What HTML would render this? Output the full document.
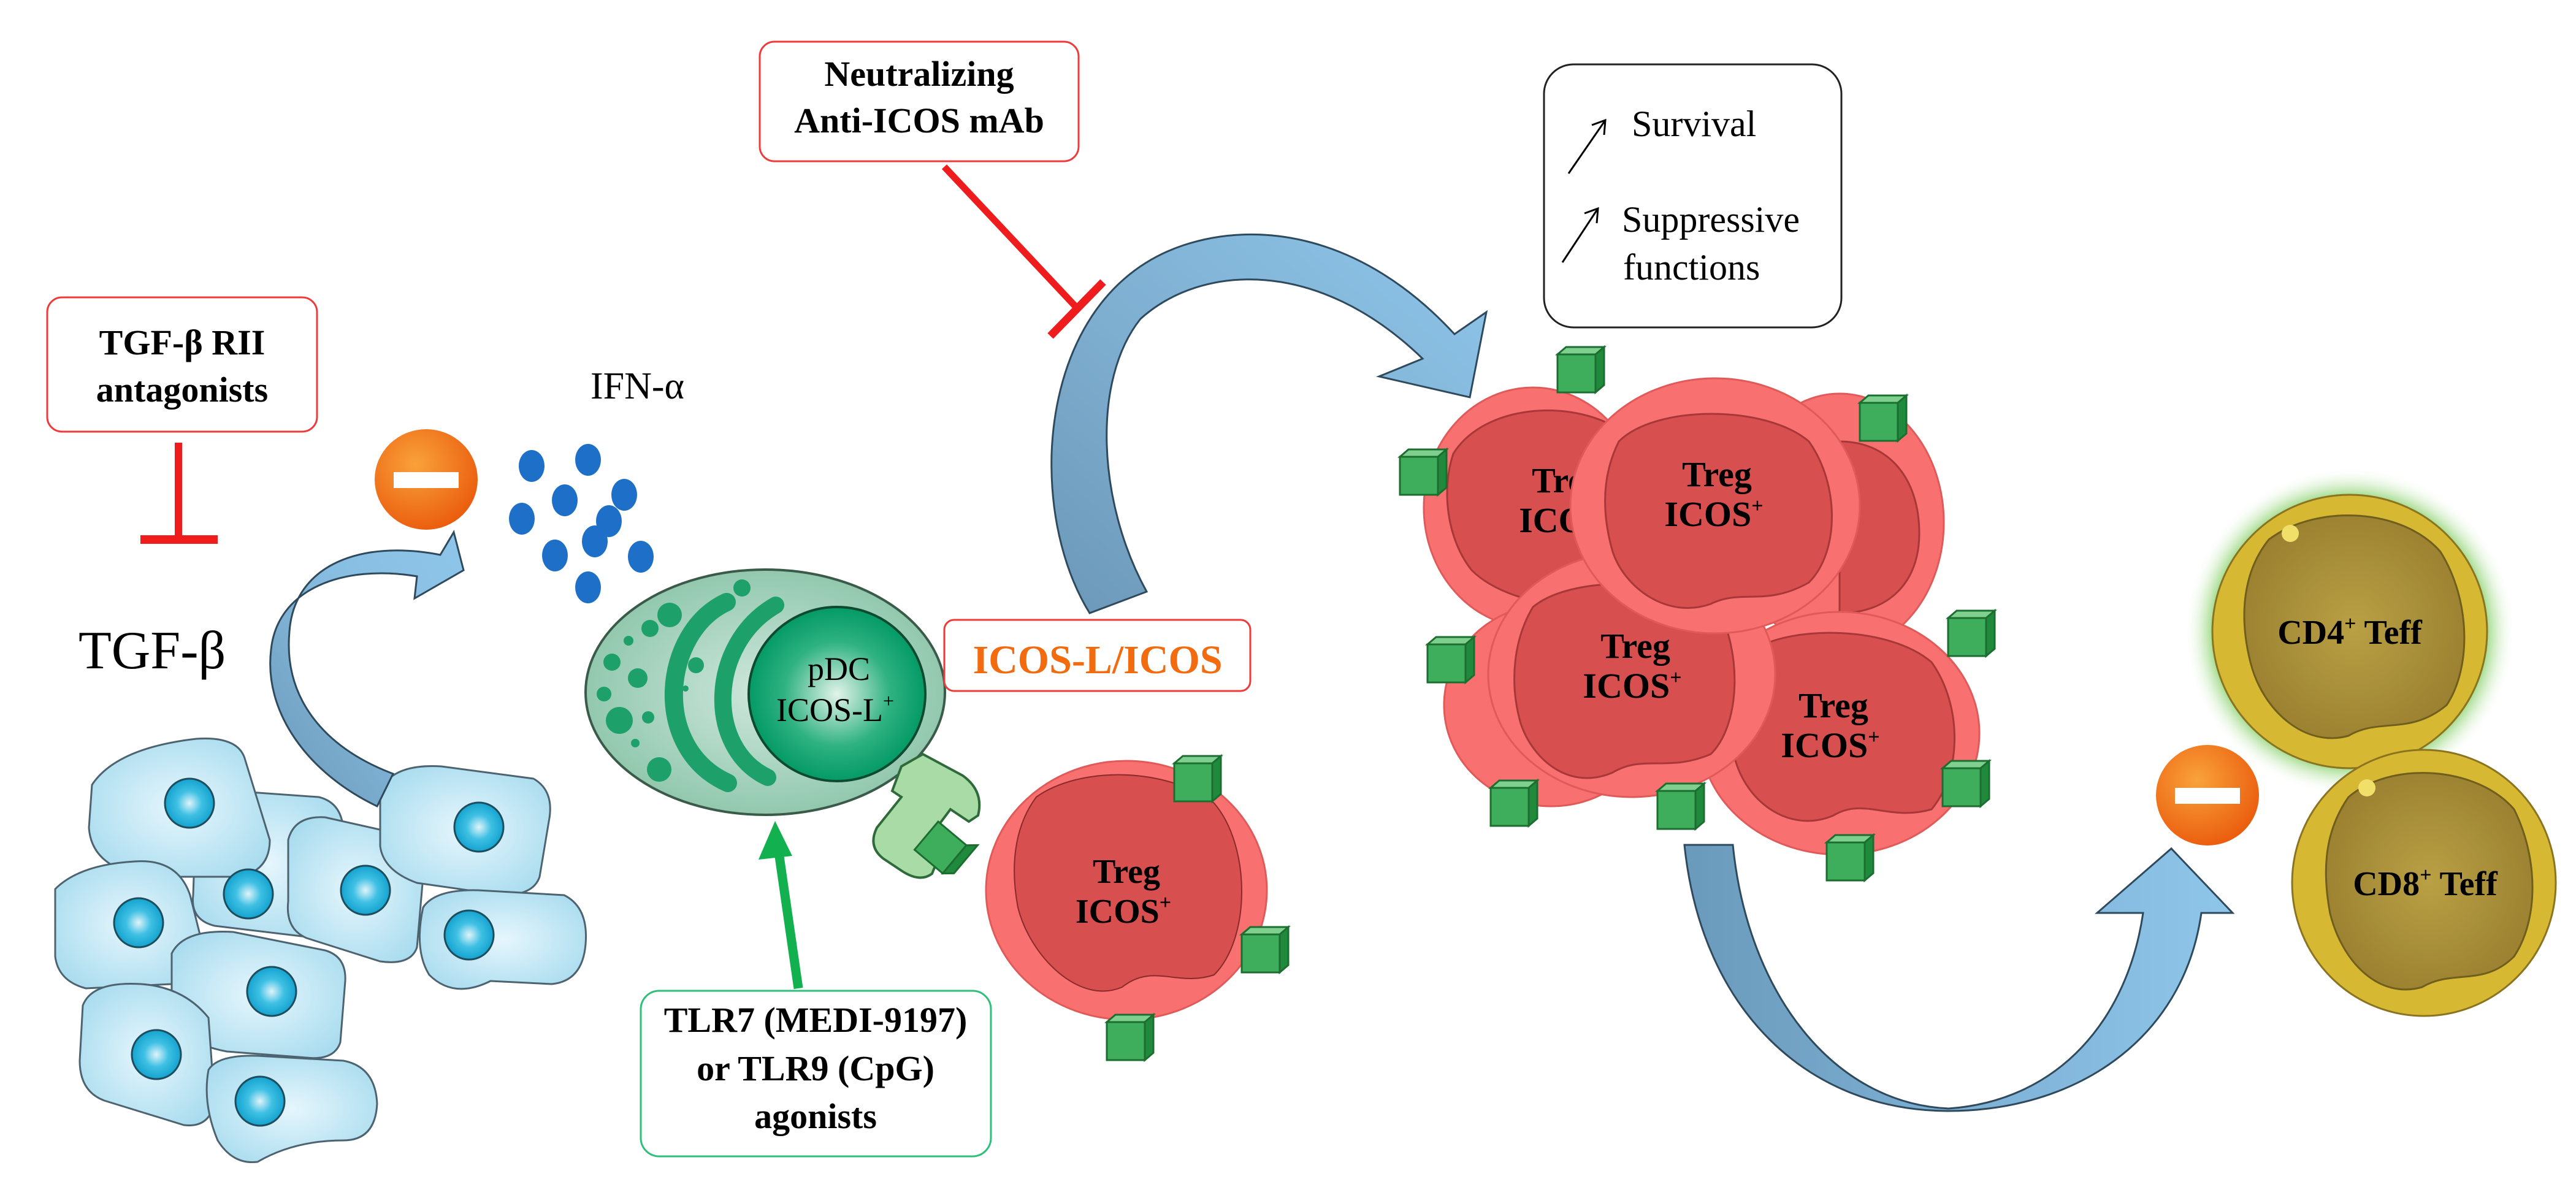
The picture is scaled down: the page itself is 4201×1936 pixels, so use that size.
<!DOCTYPE html>
<html><head><meta charset="utf-8"><style>
html,body{margin:0;padding:0;background:#fff;}
svg{display:block;}
text{font-family:"Liberation Serif",serif;}
</style></head><body>
<svg width="4201" height="1936" viewBox="0 0 4201 1936" xmlns="http://www.w3.org/2000/svg">
<defs>
<radialGradient id="cellB" cx="0.5" cy="0.5" r="0.6"><stop offset="0" stop-color="#e6f6fc"/><stop offset="1" stop-color="#a9dcef"/></radialGradient>
<radialGradient id="nucB" cx="0.5" cy="0.5" r="0.5"><stop offset="0" stop-color="#e0f4fa"/><stop offset="0.5" stop-color="#3fc0e4"/><stop offset="1" stop-color="#14a3cf"/></radialGradient>
<radialGradient id="orange" cx="0.4" cy="0.35" r="0.7"><stop offset="0" stop-color="#f9a23a"/><stop offset="1" stop-color="#ea5a0c"/></radialGradient>
<radialGradient id="pdcOut" cx="0.5" cy="0.5" r="0.55"><stop offset="0" stop-color="#cfe7dc"/><stop offset="1" stop-color="#8cc5aa"/></radialGradient>
<radialGradient id="pdcNuc" cx="0.5" cy="0.5" r="0.5"><stop offset="0" stop-color="#e3f3ea"/><stop offset="0.6" stop-color="#2fb282"/><stop offset="1" stop-color="#049a66"/></radialGradient>
<linearGradient id="arrBig" x1="0" y1="1" x2="1" y2="0"><stop offset="0" stop-color="#6c98b8"/><stop offset="0.45" stop-color="#7eaed0"/><stop offset="1" stop-color="#8ec6ea"/></linearGradient>
<linearGradient id="arrU" x1="0" y1="0" x2="1" y2="0"><stop offset="0" stop-color="#6a9abb"/><stop offset="0.5" stop-color="#7db0d4"/><stop offset="1" stop-color="#8ec6ea"/></linearGradient>
<linearGradient id="arrS" x1="0" y1="1" x2="1" y2="0"><stop offset="0" stop-color="#6a98b8"/><stop offset="0.6" stop-color="#88bee2"/><stop offset="1" stop-color="#8ec6ea"/></linearGradient>
<radialGradient id="gold" cx="0.5" cy="0.5" r="0.55"><stop offset="0" stop-color="#b9a044"/><stop offset="1" stop-color="#9a8030"/></radialGradient>
<radialGradient id="glow" cx="0.5" cy="0.5" r="0.5"><stop offset="0.82" stop-color="#9ad880"/><stop offset="1" stop-color="#ffffff" stop-opacity="0"/></radialGradient>
<g id="cube">
 <rect x="0" y="12" width="62" height="62" fill="#3fae5c" stroke="#1c6e30" stroke-width="3"/>
 <polygon points="0,12 14,0 76,0 62,12" fill="#7fd08f" stroke="#1c6e30" stroke-width="3"/>
 <polygon points="62,12 76,0 76,62 62,74" fill="#1f8a3c" stroke="#1c6e30" stroke-width="3"/>
</g>
</defs>

<rect x="77" y="485" width="440" height="219" rx="24" fill="#fff" stroke="#ee3a3a" stroke-width="3"/>
<text x="297" y="578" font-size="58" font-weight="bold" text-anchor="middle">TGF-β RII</text>
<text x="297" y="655" font-size="58" font-weight="bold" text-anchor="middle">antagonists</text>
<line x1="291" y1="722" x2="291" y2="880" stroke="#ee1c1c" stroke-width="12"/>
<line x1="229" y1="880" x2="355" y2="880" stroke="#ee1c1c" stroke-width="14"/>

<text x="128" y="1090" font-size="88">TGF-β</text>

<g stroke="#4d6470" stroke-width="3" fill="url(#cellB)">
 <path d="M320,1318 Q330,1290 380,1290 L520,1300 Q560,1310 560,1360 L545,1500 Q535,1530 500,1528 L350,1510 Q310,1500 315,1460 Z"/>
 <path d="M150,1280 Q190,1220 320,1205 Q390,1200 400,1240 L440,1370 Q440,1420 390,1430 L250,1430 Q150,1420 145,1350 Z"/>
 <path d="M90,1450 Q130,1410 220,1405 Q290,1400 310,1460 L335,1560 Q330,1600 280,1605 L140,1612 Q95,1600 90,1560 Z"/>
 <path d="M470,1370 Q480,1330 530,1333 L650,1360 Q690,1380 690,1430 L680,1545 Q670,1575 620,1568 L500,1530 Q465,1515 470,1470 Z"/>
 <path d="M620,1290 Q640,1245 720,1250 L870,1270 Q905,1290 895,1340 L880,1430 Q870,1460 820,1460 L680,1440 Q625,1420 620,1380 Z"/>
 <path d="M690,1480 Q710,1450 780,1452 L920,1460 Q960,1480 955,1540 Q950,1600 900,1605 L800,1600 Q740,1630 700,1590 Q675,1550 690,1480 Z"/>
 <path d="M280,1555 Q300,1515 380,1520 L530,1550 Q565,1560 563,1600 L555,1700 Q545,1730 500,1725 L370,1715 Q290,1700 280,1650 Z"/>
 <path d="M135,1640 Q150,1600 230,1605 Q300,1610 340,1660 L350,1800 Q340,1840 300,1835 L170,1795 Q130,1780 130,1730 Z"/>
 <path d="M340,1745 Q355,1720 420,1722 L560,1730 Q612,1740 615,1800 Q612,1860 560,1860 Q480,1860 420,1895 Q380,1900 355,1860 Q330,1800 340,1745 Z"/>
</g>
<g stroke="#1e4d5e" stroke-width="3" fill="url(#nucB)">
 <circle cx="405" cy="1458" r="40"/><circle cx="309" cy="1310" r="40"/><circle cx="226" cy="1505" r="40"/>
 <circle cx="596" cy="1452" r="40"/><circle cx="781" cy="1349" r="40"/><circle cx="765" cy="1525" r="40"/>
 <circle cx="443" cy="1617" r="40"/><circle cx="255" cy="1720" r="40"/><circle cx="424" cy="1796" r="40"/>
</g>

<path d="M615,1315 C500,1260 430,1160 442,1060 C452,960 560,920 680,940 L676,976 L756,930 L740,868 L718,905 C590,880 480,920 472,1030 C462,1140 530,1220 641,1262 Z" fill="url(#arrS)" stroke="#2e4a5c" stroke-width="3"/>

<ellipse cx="695" cy="782" rx="84" ry="82" fill="url(#orange)"/>
<rect x="642" y="770" width="106" height="26" fill="#fff"/>

<text x="963" y="650" font-size="62">IFN-α</text>
<g fill="#1e6fc8">
 <ellipse cx="867" cy="760" rx="21" ry="26"/><ellipse cx="959" cy="750" rx="21" ry="26"/>
 <ellipse cx="1018" cy="807" rx="21" ry="26"/><ellipse cx="921" cy="816" rx="21" ry="26"/>
 <ellipse cx="851" cy="846" rx="21" ry="26"/><ellipse cx="993" cy="850" rx="21" ry="26"/>
 <ellipse cx="970" cy="883" rx="21" ry="26"/><ellipse cx="905" cy="906" rx="21" ry="26"/>
 <ellipse cx="1045" cy="908" rx="21" ry="26"/><ellipse cx="959" cy="958" rx="21" ry="26"/>
</g>

<ellipse cx="1248" cy="1129" rx="293" ry="200" fill="url(#pdcOut)" stroke="#3a5a4a" stroke-width="4"/>
<g fill="#1ea06a">
 <circle cx="1210" cy="959" r="14"/><circle cx="1092" cy="1003" r="20"/><circle cx="1060" cy="1025" r="14"/>
 <circle cx="1025" cy="1045" r="8"/><circle cx="998" cy="1080" r="14"/><circle cx="1040" cy="1106" r="16"/>
 <circle cx="985" cy="1132" r="12"/><circle cx="1010" cy="1175" r="22"/><circle cx="1057" cy="1170" r="10"/>
 <circle cx="1036" cy="1212" r="7"/><circle cx="1075" cy="1255" r="20"/><circle cx="1135" cy="1085" r="13"/>
 <circle cx="1118" cy="1123" r="5"/>
</g>
<path d="M1185,982 C1080,1030 1060,1220 1187,1277" fill="none" stroke="#1ea06a" stroke-width="30" stroke-linecap="round"/>
<path d="M1265,987 C1155,1050 1150,1220 1252,1268" fill="none" stroke="#1ea06a" stroke-width="28" stroke-linecap="round"/>
<ellipse cx="1365" cy="1132" rx="144" ry="142" fill="url(#pdcNuc)" stroke="#0c4b30" stroke-width="4"/>
<text x="1368" y="1109" font-size="54" text-anchor="middle">pDC</text>
<text x="1362" y="1176" font-size="54" text-anchor="middle">ICOS-L<tspan font-size="32" dy="-22">+</tspan></text>

<line x1="1302" y1="1612" x2="1270" y2="1390" stroke="#13b050" stroke-width="15"/>
<polygon points="1264,1339 1237,1402 1292,1396" fill="#13b050"/>

<rect x="1045" y="1616" width="571" height="270" rx="30" fill="#fff" stroke="#2fbf7a" stroke-width="3"/>
<text x="1330" y="1683" font-size="58" font-weight="bold" text-anchor="middle">TLR7 (MEDI-9197)</text>
<text x="1330" y="1762" font-size="58" font-weight="bold" text-anchor="middle">or TLR9 (CpG)</text>
<text x="1330" y="1840" font-size="58" font-weight="bold" text-anchor="middle">agonists</text>

<rect x="1540" y="1011" width="499" height="116" rx="16" fill="#fff" stroke="#ee3a3a" stroke-width="3"/>
<text x="1790" y="1098" font-size="66" font-weight="bold" fill="#f26b0f" text-anchor="middle">ICOS-L/ICOS</text>

<ellipse cx="1837" cy="1452" rx="229" ry="211" fill="#f87070" stroke="#e05a5a" stroke-width="3"/>
<path d="M1690,1300 C1760,1250 1900,1250 1980,1310 C2040,1380 2040,1530 1980,1590 C1920,1610 1880,1570 1830,1610 C1760,1640 1680,1560 1660,1480 C1645,1400 1660,1340 1690,1300 Z" fill="#d84f4f" stroke="#8a2a2a" stroke-width="2"/>
<text x="1837" y="1440" font-size="56" font-weight="bold" text-anchor="middle">Treg</text>
<text x="1832" y="1505" font-size="56" font-weight="bold" text-anchor="middle">ICOS<tspan font-size="34" dy="-22">+</tspan></text>
<use href="#cube" x="1915" y="1233"/>
<use href="#cube" x="2025" y="1512"/>
<use href="#cube" x="1805" y="1655"/>

<path d="M1470,1250 L1505,1230 L1570,1265 Q1605,1290 1595,1330 L1580,1340 L1550,1320 L1505,1380 L1530,1400 L1520,1425 Q1500,1440 1470,1420 L1440,1400 Q1415,1380 1430,1350 L1470,1300 L1455,1290 Z" fill="#a9dba6" stroke="#2f6b3a" stroke-width="4"/>
<g transform="translate(1530,1340) rotate(40)"><rect x="0" y="0" width="60" height="60" fill="#3fae5c" stroke="#1c6e30" stroke-width="3"/><polygon points="60,0 74,-12 74,48 60,60" fill="#1f8a3c" stroke="#1c6e30" stroke-width="3"/></g>

<rect x="1239" y="68" width="520" height="195" rx="24" fill="#fff" stroke="#ee3a3a" stroke-width="3"/>
<text x="1499" y="140" font-size="58" font-weight="bold" text-anchor="middle">Neutralizing</text>
<text x="1499" y="216" font-size="58" font-weight="bold" text-anchor="middle">Anti-ICOS mAb</text>
<line x1="1540" y1="272" x2="1756" y2="502" stroke="#ee1c1c" stroke-width="11"/>
<line x1="1713" y1="548" x2="1799" y2="460" stroke="#ee1c1c" stroke-width="13"/>

<path d="M1777,1000 L1870,965 C1790,820 1780,620 1860,520 C1960,430 2150,420 2320,585 L2249,614 L2397,648 L2424,509 L2372,545 C2220,380 2050,360 1930,400 C1780,450 1720,600 1715,740 C1712,850 1740,940 1777,1000 Z" fill="url(#arrBig)" stroke="#2e4a5c" stroke-width="3"/>

<rect x="2518" y="105" width="485" height="429" rx="48" fill="#fff" stroke="#222" stroke-width="3"/>
<line x1="2558" y1="283" x2="2618" y2="196" stroke="#000" stroke-width="3"/>
<polyline points="2596,204 2618,196 2616,220" fill="none" stroke="#000" stroke-width="3"/>
<line x1="2548" y1="428" x2="2606" y2="340" stroke="#000" stroke-width="3"/>
<polyline points="2584,348 2606,340 2604,364" fill="none" stroke="#000" stroke-width="3"/>
<text x="2661" y="222" font-size="60">Survival</text>
<text x="2645" y="378" font-size="60">Suppressive</text>
<text x="2647" y="456" font-size="60">functions</text>

<g stroke="#e05a5a" stroke-width="3">
 <ellipse cx="2500" cy="828" rx="178" ry="196" fill="#f87070"/>
 <path d="M2370,740 C2420,660 2560,650 2640,700 L2640,980 C2560,1000 2450,980 2400,930 C2360,880 2350,800 2370,740 Z" fill="#d84f4f" stroke="#a83838"/>
</g>
<g font-size="58" font-weight="bold" text-anchor="middle">
 <text x="2555" y="803">Treg</text>
 <text x="2548" y="868">ICOS</text>
</g>
<g stroke="#e05a5a" stroke-width="3">
 <ellipse cx="3000" cy="852" rx="170" ry="210" fill="#f87070"/>
 <path d="M3000,720 C3080,720 3130,780 3130,870 C3130,950 3080,1000 3000,1000 Z" fill="#d84f4f" stroke="#a83838"/>
 <ellipse cx="2530" cy="1150" rx="175" ry="165" fill="#f87070"/>
 <ellipse cx="3000" cy="1196" rx="228" ry="198" fill="#f87070"/>
 <path d="M2860,1060 C2920,1020 3080,1020 3150,1080 C3200,1150 3200,1260 3150,1320 C3080,1340 3040,1300 2990,1330 C2920,1360 2850,1310 2830,1240 C2810,1170 2820,1100 2860,1060 Z" fill="#d84f4f" stroke="#a83838"/>
 <ellipse cx="2661" cy="1100" rx="234" ry="200" fill="#f87070"/>
 <path d="M2500,990 C2560,940 2720,940 2800,990 C2840,1060 2840,1180 2790,1230 C2720,1260 2680,1230 2630,1260 C2560,1290 2500,1240 2480,1180 C2460,1110 2470,1040 2500,990 Z" fill="#d84f4f" stroke="#a83838"/>
</g>
<g font-size="58" font-weight="bold" text-anchor="middle">
 <text x="2667" y="1073">Treg</text>
 <text x="2662" y="1138">ICOS<tspan font-size="34" dy="-22">+</tspan></text>
 <text x="2990" y="1170">Treg</text>
 <text x="2985" y="1235">ICOS<tspan font-size="34" dy="-22">+</tspan></text>
</g>
<g stroke="#e05a5a" stroke-width="3">
 <ellipse cx="2797" cy="825" rx="236" ry="208" fill="#f87070"/>
 <path d="M2640,720 C2700,660 2880,660 2950,720 C3000,790 3000,900 2950,950 C2880,990 2840,960 2790,985 C2720,1010 2650,960 2630,900 C2610,830 2615,770 2640,720 Z" fill="#d84f4f" stroke="#a83838"/>
</g>
<g font-size="58" font-weight="bold" text-anchor="middle">
 <text x="2800" y="793">Treg</text>
 <text x="2795" y="858">ICOS<tspan font-size="34" dy="-22">+</tspan></text>
</g>
<use href="#cube" x="2540" y="566"/>
<use href="#cube" x="2283" y="733"/>
<use href="#cube" x="3033" y="645"/>
<use href="#cube" x="2328" y="1039"/>
<use href="#cube" x="3177" y="996"/>
<use href="#cube" x="2431" y="1273"/>
<use href="#cube" x="2703" y="1278"/>
<use href="#cube" x="3168" y="1241"/>
<use href="#cube" x="2979" y="1362"/>

<path d="M2747,1378 L2826,1378 C2850,1620 2990,1800 3178,1808 C3360,1795 3470,1660 3495,1489 L3420,1489 L3541,1384 L3641,1489 L3590,1489 C3560,1700 3380,1812 3178,1812 C2950,1812 2775,1650 2747,1378 Z" fill="url(#arrU)" stroke="#2e4a5c" stroke-width="3"/>

<ellipse cx="3600" cy="1297" rx="84" ry="82" fill="url(#orange)"/>
<rect x="3547" y="1285" width="106" height="26" fill="#fff"/>

<ellipse cx="3832" cy="1030" rx="270" ry="268" fill="url(#glow)"/>
<ellipse cx="3832" cy="1030" rx="224" ry="223" fill="#d6b833" stroke="#8a7420" stroke-width="3"/>
<path d="M3700,880 C3780,820 3920,830 3980,900 C4030,980 4030,1090 3990,1150 C3930,1200 3880,1170 3830,1200 C3760,1220 3690,1160 3670,1080 C3650,1000 3660,930 3700,880 Z" fill="url(#gold)" stroke="#6f5e1c" stroke-width="3"/>
<circle cx="3735" cy="870" r="14" fill="#f0e06a"/>
<text x="3832" y="1050" font-size="56" font-weight="bold" text-anchor="middle">CD4<tspan font-size="34" dy="-22">+</tspan><tspan dy="22"> Teff</tspan></text>
<ellipse cx="3953" cy="1440" rx="215" ry="217" fill="#d6b833" stroke="#8a7420" stroke-width="3"/>
<path d="M3830,1300 C3900,1240 4040,1250 4100,1320 C4140,1400 4140,1500 4100,1560 C4050,1610 4000,1580 3950,1610 C3880,1630 3820,1570 3800,1490 C3785,1410 3795,1350 3830,1300 Z" fill="url(#gold)" stroke="#6f5e1c" stroke-width="3"/>
<circle cx="3860" cy="1285" r="14" fill="#f0e06a"/>
<text x="3955" y="1460" font-size="56" font-weight="bold" text-anchor="middle">CD8<tspan font-size="34" dy="-22">+</tspan><tspan dy="22"> Teff</tspan></text>
</svg>
</body></html>
